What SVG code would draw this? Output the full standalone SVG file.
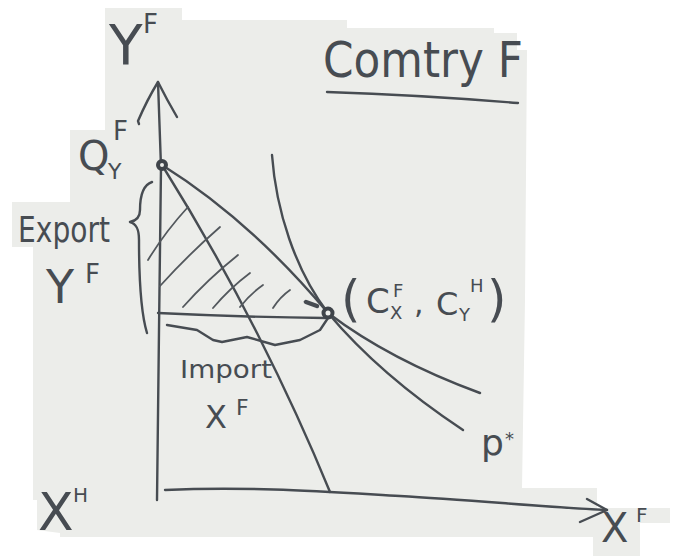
<svg xmlns="http://www.w3.org/2000/svg" width="679" height="556" viewBox="0 0 679 556">
<style>
.ink{fill:none;stroke:#474c52;stroke-width:2.4;stroke-linecap:round;stroke-linejoin:round}
.hatch{fill:none;stroke:#53585d;stroke-width:1.8;stroke-linecap:round}
.dot{fill:#ecedea;stroke:#3f444a;stroke-width:4}
.t{fill:#474c52;font-family:"DejaVu Sans","Liberation Sans",sans-serif}
</style>
<rect width="679" height="556" fill="#ffffff"/>
<path id="paper" fill="#ecedea" d="M105,8 L182,8 L182,20 L347,20 L347,28 L494,28 L494,33 L517,33 L517,50 L527,50 L525,300 L522,488 L597,488 L597,508 L670,508 L670,523 L640,523 L640,556 L593,556 L593,537 L60,537 L60,533 L37,530 L37,500 L33,500 L33,247 L12,247 L12,202 L70,202 L70,130 L105,130 Z"/>

<g id="connectors">
  <g id="y-axis">
    <path class="ink" d="M158,82 L161,167 L159,330 L157,500"/>
    <path class="ink" d="M139,124 L138,121 Q147,100 158,82 Q167,100 177,117"/>
  </g>
  <g id="x-axis">
    <path class="ink" d="M165,490 C250,486 330,492 400,496 S560,508 607,510"/>
    <path class="ink" d="M587,499 L607,510 L580,522"/>
  </g>
  <path id="ppf" class="ink" d="M162,165 Q215,250 257,333 Q299,416 330,492"/>
  <path id="price-line" class="ink" d="M162,165 Q250,220 328,313 Q380,375 463,430"/>
  <path id="indifference" class="ink" d="M272,155 C276,210 295,270 328,313 Q390,360 480,393"/>
  <path id="trade-base" class="ink" d="M158,313 Q240,317 325,318"/>
  <path id="import-brace" class="ink" d="M167,325 L197,330 L213,340 L222,342 L247,337 L275,345 L300,340 L320,330 L328,318"/>
  <path id="export-brace" class="ink" d="M152,182 C143,185 140,195 140,210 C140,218 135,221 130,222 C137,224 139,230 139,240 C139,270 140,310 147,333"/>
  <g id="hatching">
    <path class="hatch" d="M148,260 Q165,232 188,207"/>
    <path class="hatch" d="M160,286 Q188,255 220,227"/>
    <path class="hatch" d="M183,307 Q208,279 238,255"/>
    <path class="hatch" d="M213,308 Q230,288 250,273"/>
    <path class="hatch" d="M240,307 Q250,294 263,285"/>
    <path class="hatch" d="M273,308 Q280,297 290,290"/>
    <path class="ink" style="stroke-width:4.5" d="M306,302 L317,306"/>
  </g>
</g>

<g id="point-Q"><circle class="dot" cx="162" cy="165" r="4"/></g>
<g id="point-E"><circle class="dot" cx="328" cy="313" r="4.5"/></g>

<g id="title">
  <text class="t" x="323" y="77" font-size="50" textLength="200" lengthAdjust="spacingAndGlyphs">Comtry F</text>
  <path class="ink" d="M327,92 Q420,95 518,103"/>
</g>
<g id="label-YF"><text class="t" x="109" y="64" font-size="55">Y<tspan x="143" y="33" font-size="26">F</tspan></text></g>
<g id="label-QYF"><text class="t" x="78" y="170" font-size="40">Q<tspan x="108" y="179" font-size="22">Y</tspan><tspan x="113" y="140" font-size="26">F</tspan></text></g>
<g id="label-export">
  <text class="t" x="18" y="242" font-size="36" textLength="92" lengthAdjust="spacingAndGlyphs">Export</text>
  <text class="t" x="46" y="303" font-size="46">Y<tspan x="85" y="283" font-size="26">F</tspan></text>
</g>
<g id="label-import">
  <text class="t" x="180" y="378" font-size="24" textLength="92" lengthAdjust="spacingAndGlyphs">Import</text>
  <text class="t" x="205" y="428" font-size="32">X<tspan x="236" y="415" font-size="22">F</tspan></text>
</g>
<g id="label-E">
  <text class="t" y="316" font-size="50"><tspan x="341">(</tspan><tspan x="366" y="313" font-size="34">C</tspan><tspan x="390" y="319" font-size="18">X</tspan><tspan x="393" y="297" font-size="18">F</tspan><tspan x="414" y="313" font-size="30">,</tspan><tspan x="436" y="315" font-size="32">C</tspan><tspan x="459" y="321" font-size="18">Y</tspan><tspan x="470" y="292" font-size="18">H</tspan><tspan x="487" y="316">)</tspan></text>
</g>
<g id="label-p"><text class="t" x="481" y="455" font-size="36">p<tspan x="505" y="445" font-size="18">*</tspan></text></g>
<g id="label-XH"><text class="t" x="38" y="530" font-size="52">X<tspan x="73" y="502" font-size="20">H</tspan></text></g>
<g id="label-XF"><text class="t" x="601" y="542" font-size="40">X<tspan x="636" y="522" font-size="20">F</tspan></text></g>
</svg>
